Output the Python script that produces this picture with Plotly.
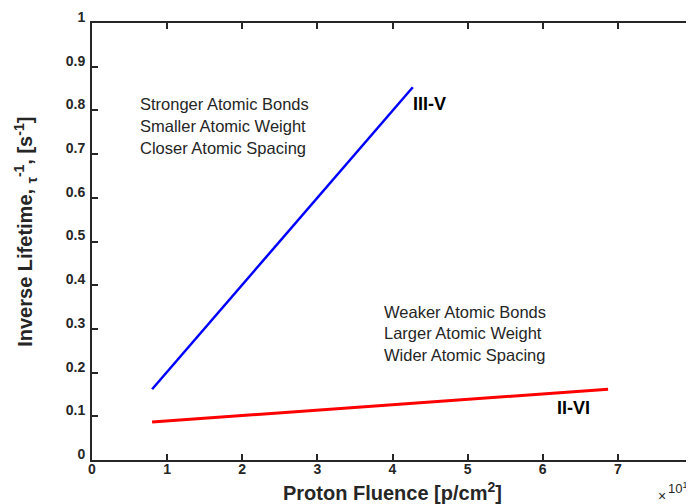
import plotly.graph_objects as go

# fluence in units of 1e11 p/cm^2, inverse lifetime in 1/s
iii_v_x = [0.8, 4.27]
iii_v_y = [0.162, 0.853]
ii_vi_x = [0.8, 6.87]
ii_vi_y = [0.087, 0.162]

x_ticks = [0, 1, 2, 3, 4, 5, 6, 7, 8]
y_ticks = [0, 0.1, 0.2, 0.3, 0.4, 0.5, 0.6, 0.7, 0.8, 0.9, 1.0]
y_tick_text = ["0", "0.1", "0.2", "0.3", "0.4", "0.5", "0.6", "0.7", "0.8", "0.9", "1"]

upper_notes = ["Stronger Atomic Bonds", "Smaller Atomic Weight", "Closer Atomic Spacing"]
lower_notes = ["Weaker Atomic Bonds", "Larger Atomic Weight", "Wider Atomic Spacing"]

ink = "#262626"
font_face = "Liberation Sans, Arial, sans-serif"

fig = go.Figure()
fig.add_trace(go.Scatter(x=iii_v_x, y=iii_v_y, mode="lines",
                         line=dict(color="#0000ff", width=2.5), showlegend=False))
fig.add_trace(go.Scatter(x=ii_vi_x, y=ii_vi_y, mode="lines",
                         line=dict(color="#ff0000", width=3), showlegend=False))

# text blocks
for i, t in enumerate(upper_notes):
    fig.add_annotation(x=0.61, y=0.815 - i * 0.0505, text=t, showarrow=False,
                       xanchor="left", yanchor="middle",
                       font=dict(size=16.5, color=ink, family=font_face))
for i, t in enumerate(lower_notes):
    fig.add_annotation(x=3.86, y=0.339 - i * 0.0495, text=t, showarrow=False,
                       xanchor="left", yanchor="middle",
                       font=dict(size=16.5, color=ink, family=font_face))

fig.add_annotation(x=4.24, y=0.815, text="III-V", showarrow=False,
                   xanchor="left", yanchor="middle",
                   font=dict(size=18, color="#000000", family=font_face, weight="bold"))
fig.add_annotation(x=6.16, y=0.119, text="II-VI", showarrow=False,
                   xanchor="left", yanchor="middle",
                   font=dict(size=18, color="#000000", family=font_face, weight="bold"))

# exponent marker (MATLAB style) and axis titles
fig.add_annotation(x=0.939, y=-0.083, xref="paper", yref="paper",
                   text="×", showarrow=False,
                   xanchor="left", yanchor="middle",
                   font=dict(size=14, color=ink, family=font_face))
fig.add_annotation(x=0.955, y=-0.063, xref="paper", yref="paper",
                   text="10<sup>11</sup>", showarrow=False,
                   xanchor="left", yanchor="middle",
                   font=dict(size=13, color=ink, family=font_face))
fig.add_annotation(x=0.5, y=-0.073, xref="paper", yref="paper",
                   text="Proton Fluence [p/cm<sup>2</sup>]", showarrow=False,
                   xanchor="center", yanchor="middle",
                   font=dict(size=20, color=ink, family=font_face, weight="bold"))
fig.add_annotation(x=-0.11, y=0.522, xref="paper", yref="paper",
                   text="Inverse Lifetime, <sub>τ</sub><sup>-1</sup>, [s<sup>-1</sup>]",
                   showarrow=False, textangle=-90,
                   xanchor="center", yanchor="middle",
                   font=dict(size=20, color=ink, family=font_face, weight="bold"))

axis_common = dict(
    showline=True, linecolor=ink, linewidth=2, mirror="ticks",
    ticks="inside", ticklen=6, tickwidth=2, tickcolor=ink,
    showgrid=False, zeroline=False, automargin=False,
    tickfont=dict(size=14, color=ink, family=font_face, weight="bold"),
)

# page body adds an 8px offset, so the figure is sized to fit the window
fig.update_layout(
    width=686, height=496,
    margin=dict(l=84, r=1, t=15, b=44),
    paper_bgcolor="#ffffff", plot_bgcolor="#ffffff",
    xaxis=dict(range=[0, 8], tickvals=x_ticks, ticklabelstandoff=-5,
               ticklabeloverflow="allow", **axis_common),
    yaxis=dict(range=[0, 1], tickvals=y_ticks, ticktext=y_tick_text,
               ticklabelshift=-6, ticklabelstandoff=2, **axis_common),
)

fig.write_html("out.html")
